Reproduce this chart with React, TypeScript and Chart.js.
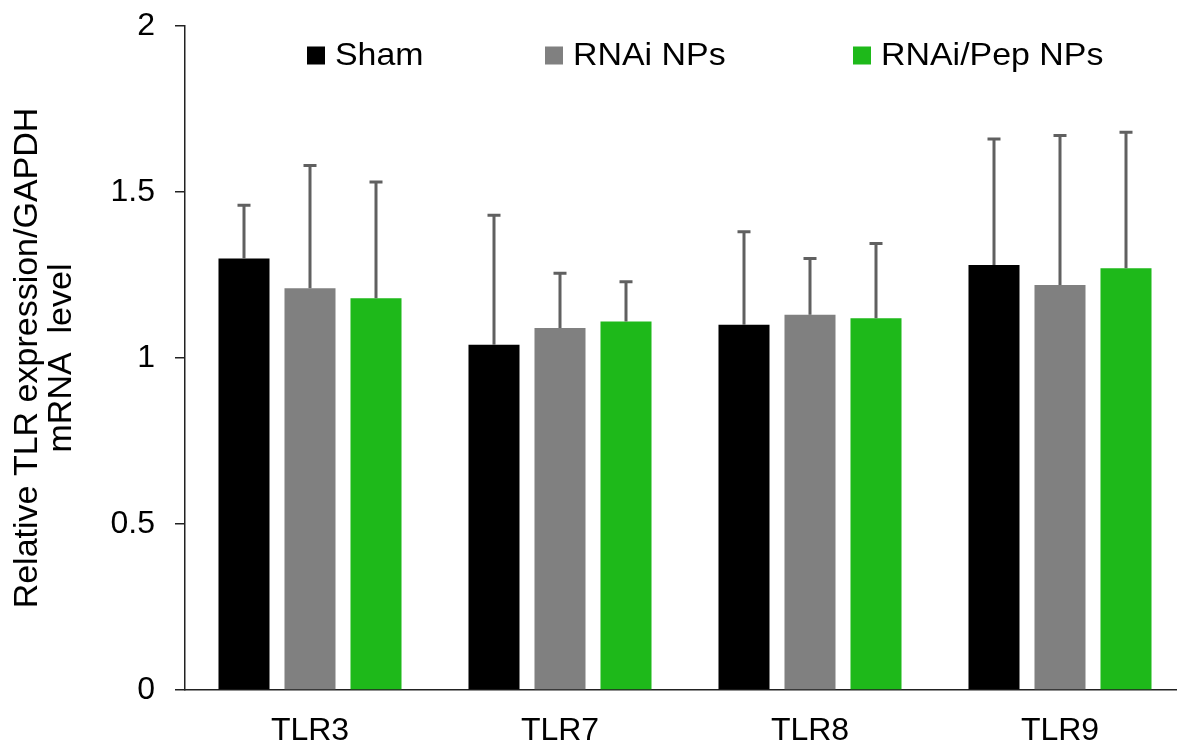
import React, { useEffect, useRef } from "react";
import { Chart, registerables } from "chart.js";

Chart.register(...registerables);

const categories = ["TLR3", "TLR7", "TLR8", "TLR9"];
const seriesNames = ["Sham", "RNAi NPs", "RNAi/Pep NPs"];
const seriesColors = ["#000000", "#808080", "#1EB91A"];
const shamValues = [1.3, 1.04, 1.1, 1.28];
const rnaiValues = [1.21, 1.09, 1.13, 1.22];
const rnaiPepValues = [1.18, 1.11, 1.12, 1.27];
const shamErrors = [0.16, 0.39, 0.28, 0.38];
const rnaiErrors = [0.37, 0.165, 0.17, 0.45];
const rnaiPepErrors = [0.35, 0.12, 0.225, 0.41];
const yMin = 0;
const yMax = 2;
const yStep = 0.5;
const yTitle = ["Relative TLR expression/GAPDH", "mRNA  level"];

const FONT = "'Liberation Sans', Arial, sans-serif";

const errorBarPlugin = {
  id: "errorBars",
  afterDatasetsDraw(chart: any) {
    const ctx = chart.ctx;
    const yScale = chart.scales.y;
    chart.data.datasets.forEach((ds: any, i: number) => {
      const meta = chart.getDatasetMeta(i);
      meta.data.forEach((bar: any, j: number) => {
        const v = ds.data[j];
        const e = ds.errors[j];
        const yTop = yScale.getPixelForValue(v + e);
        ctx.save();
        ctx.strokeStyle = "#606060";
        ctx.lineWidth = 3;
        ctx.beginPath();
        ctx.moveTo(bar.x, bar.y);
        ctx.lineTo(bar.x, yTop);
        ctx.moveTo(bar.x - 6.5, yTop);
        ctx.lineTo(bar.x + 6.5, yTop);
        ctx.stroke();
        ctx.restore();
      });
    });
  },
};

const legendOffsets = [122, 360, 668];

const legendPlugin = {
  id: "innerLegend",
  afterDraw(chart: any) {
    const ctx = chart.ctx;
    const area = chart.chartArea;
    const yCenter = area.top + 29;
    ctx.save();
    ctx.font = `32px ${FONT}`;
    ctx.textBaseline = "middle";
    ctx.textAlign = "left";
    chart.data.datasets.forEach((ds: any, i: number) => {
      const x = area.left + legendOffsets[i];
      ctx.fillStyle = ds.backgroundColor;
      ctx.fillRect(x, yCenter - 8.5, 18, 18);
      ctx.fillStyle = "#000";
      ctx.save();
      ctx.translate(x + 28, yCenter + 1);
      ctx.scale(1.06, 1);
      ctx.fillText(ds.label, 0, 0);
      ctx.restore();
    });
    ctx.restore();
  },
};

export default function App() {
  const canvasRef = useRef<HTMLCanvasElement | null>(null);

  useEffect(() => {
    if (!canvasRef.current) return;
    const allValues = [shamValues, rnaiValues, rnaiPepValues];
    const allErrors = [shamErrors, rnaiErrors, rnaiPepErrors];
    const chart = new Chart(canvasRef.current, {
      type: "bar",
      data: {
        labels: categories,
        datasets: seriesNames.map((name, i) => ({
          label: name,
          data: allValues[i],
          errors: allErrors[i],
          backgroundColor: seriesColors[i],
          borderWidth: 0,
          barPercentage: 0.773,
          categoryPercentage: 0.792,
        })) as any,
      },
      options: {
        responsive: false,
        animation: false,
        layout: { padding: { left: 0, right: 0, top: 26, bottom: 0 } },
        plugins: {
          legend: { display: false },
          tooltip: { enabled: false },
        },
        scales: {
          x: {
            grid: { display: false, drawTicks: false },
            border: { display: true, color: "#222", width: 1.5 },
            ticks: {
              color: "#000",
              font: { family: FONT, size: 32 },
              padding: 22,
              maxRotation: 0,
            },
            afterFit(scale: any) {
              scale.height = 57;
            },
          },
          y: {
            min: yMin,
            max: yMax,
            grid: {
              drawOnChartArea: false,
              drawTicks: true,
              tickLength: 10,
              color: "#222",
              lineWidth: 1.5,
            },
            border: { display: true, color: "#222", width: 1.5 },
            ticks: {
              stepSize: yStep,
              color: "#000",
              font: { family: FONT, size: 32 },
              padding: 20,
              callback: (v: any) => String(v),
            },
            title: {
              display: true,
              text: yTitle,
              color: "#000",
              font: { family: FONT, size: 34, lineHeight: 1.0 },
              padding: { top: 11, bottom: 0 },
            },
            afterFit(scale: any) {
              scale.width = 185;
              scale.paddingTop = 0;
              scale.paddingBottom = 0;
            },
          },
        },
      } as any,
      plugins: [errorBarPlugin, legendPlugin],
    });
    return () => chart.destroy();
  }, []);

  return (
    <div
      style={{
        position: "fixed",
        left: 0,
        top: 0,
        width: 1177,
        height: 747,
        overflow: "hidden",
        background: "#fff",
      }}
    >
      <canvas ref={canvasRef} width={1185} height={747} style={{ display: "block" }} />
    </div>
  );
}
